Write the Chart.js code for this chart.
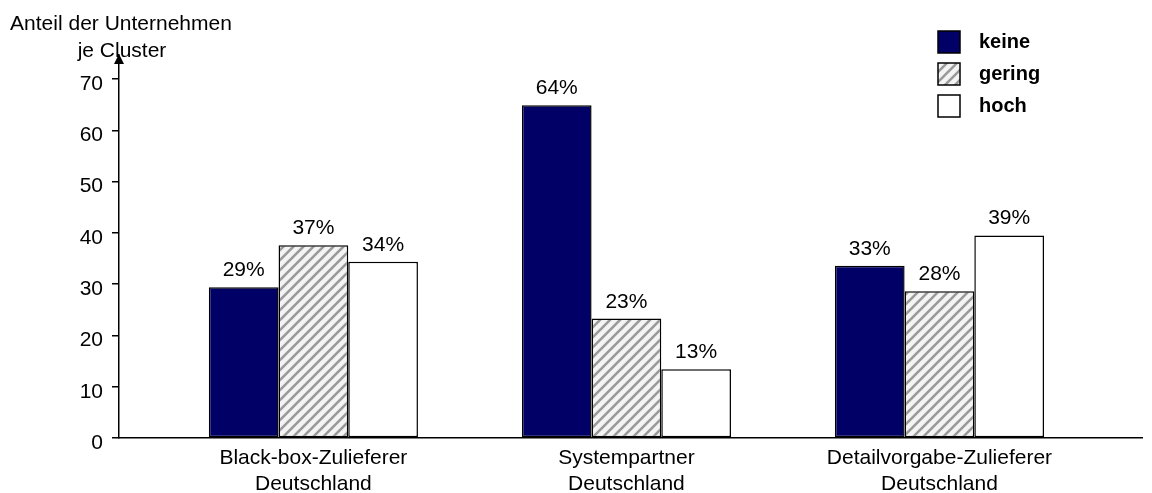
<!DOCTYPE html>
<html>
<head>
<meta charset="utf-8">
<script src="https://cdn.jsdelivr.net/npm/chart.js@4/dist/chart.umd.min.js"></script>
<style>
  body { margin: 0; background: #fff; }
  #wrap { width: 1152px; height: 493px; }
</style>
</head>
<body>
<div id="wrap"><canvas id="myChart"></canvas></div>
<script>
const categories = [
  ['Black-box-Zulieferer', 'Deutschland'],
  ['Systempartner', 'Deutschland'],
  ['Detailvorgabe-Zulieferer', 'Deutschland']
];
const seriesNames = ['keine', 'gering', 'hoch'];
const keine = [29.4, 64.9, 33.6];
const gering = [37.6, 23.3, 28.6];
const hoch = [34.4, 13.4, 39.5];
const keineLabels = ['29%', '64%', '33%'];
const geringLabels = ['37%', '23%', '28%'];
const hochLabels = ['34%', '13%', '39%'];
const yTicks = [0, 10, 20, 30, 40, 50, 60, 70];
const axisTitle = ['Anteil der Unternehmen', 'je Cluster'];

const FONT = '"Liberation Sans", Arial, sans-serif';

// diagonal hatch for "gering"
let makeHatch = () => {
  const c = document.createElement('canvas');
  c.width = 10; c.height = 10;
  const g = c.getContext('2d');
  g.fillStyle = '#f4f4f4';
  g.fillRect(0, 0, 10, 10);
  g.strokeStyle = '#9a9a9a';
  g.lineWidth = 2.6;
  g.beginPath();
  g.moveTo(-2, 12); g.lineTo(12, -2);
  g.moveTo(-7, 7); g.lineTo(7, -7);
  g.moveTo(3, 17); g.lineTo(17, 3);
  g.stroke();
  return g.createPattern(c, 'repeat');
};
const hatch = makeHatch();

let toPoints = (arr) => arr.map((v, i) => ({ x: i, y: v }));

const datasets = [
  { label: seriesNames[0], data: toPoints(keine), backgroundColor: '#000066', valueLabels: keineLabels },
  { label: seriesNames[1], data: toPoints(gering), backgroundColor: hatch, valueLabels: geringLabels },
  { label: seriesNames[2], data: toPoints(hoch), backgroundColor: '#ffffff', valueLabels: hochLabels }
].map(d => Object.assign(d, {
  borderColor: '#000000',
  borderWidth: 1.5,
  borderSkipped: false,
  categoryPercentage: 0.668,
  barPercentage: 1.0
}));

// value labels, axis arrow, y title and legend
const decorations = {
  id: 'decorations',
  afterDatasetsDraw(chart) {
    const ctx = chart.ctx;
    ctx.save();
    ctx.fillStyle = '#000';
    ctx.font = '21px ' + FONT;
    ctx.textAlign = 'center';
    ctx.textBaseline = 'alphabetic';
    chart.data.datasets.forEach((ds, di) => {
      chart.getDatasetMeta(di).data.forEach((bar, i) => {
        ctx.fillText(ds.valueLabels[i], bar.x, bar.y - 11);
      });
    });
  
    // arrow on top of y axis
    const ax = chart.scales.y.right;
    const top = chart.chartArea.top;
    ctx.beginPath();
    ctx.moveTo(ax, top - 1);
    ctx.lineTo(ax - 5, top + 9);
    ctx.lineTo(ax + 5, top + 9);
    ctx.closePath();
    ctx.fill();

    // y title
    ctx.font = '21px ' + FONT;
    ctx.fillText(axisTitle[0], 121, 30);
    ctx.fillText(axisTitle[1], 122, 57);

    // legend
    ctx.textAlign = 'left';
    ctx.textBaseline = 'middle';
    ctx.font = 'bold 20px ' + FONT;
    chart.data.datasets.forEach((ds, di) => {
      const y = 31 + di * 32;
      ctx.fillStyle = ds.backgroundColor;
      ctx.fillRect(938, y, 22, 22);
      ctx.lineWidth = 1.5;
      ctx.strokeStyle = '#000';
      ctx.strokeRect(938, y, 22, 22);
      ctx.fillStyle = '#000';
      ctx.fillText(ds.label, 979, y + 11);
    });
    ctx.restore();
  }
};

const config = {
  type: 'bar',
  data: { datasets: datasets },
  options: {
    responsive: true,
    maintainAspectRatio: false,
    animation: false,
    layout: { padding: { top: 55, right: 10, left: 0, bottom: 0 } },
    plugins: { legend: { display: false }, tooltip: { enabled: false } },
    scales: {
      x: {
        type: 'linear',
        offset: false,
        min: -0.621,
        max: 2.647,
        afterFit: (s) => { s.height = 55; },
        afterBuildTicks: (s) => { s.ticks = categories.map((c, i) => ({ value: i })); },
        grid: { display: true, offset: false, drawOnChartArea: false, drawTicks: false },
        border: { display: true, color: '#000', width: 1.5 },
        ticks: {
          padding: 7,
          color: '#000',
          font: { family: FONT, size: 21, lineHeight: 1.25 },
          callback: (v) => categories[v] || ''
        }
      },
      y: {
        min: 0,
        max: 74.7,
        afterFit: (s) => { s.width = 119; },
        afterBuildTicks: (s) => { s.ticks = yTicks.map(v => ({ value: v })); },
        grid: { display: true, drawOnChartArea: false, drawTicks: true, tickLength: 7, color: '#000', lineWidth: 1.5 },
        border: { display: true, color: '#000', width: 1.5 },
        ticks: {
          padding: 9,
          labelOffset: 5,
          color: '#000',
          font: { family: FONT, size: 21 }
        }
      }
    }
  },
  plugins: [decorations]
};

const chart = new Chart(document.getElementById('myChart'), config);
</script>
</body>
</html>
